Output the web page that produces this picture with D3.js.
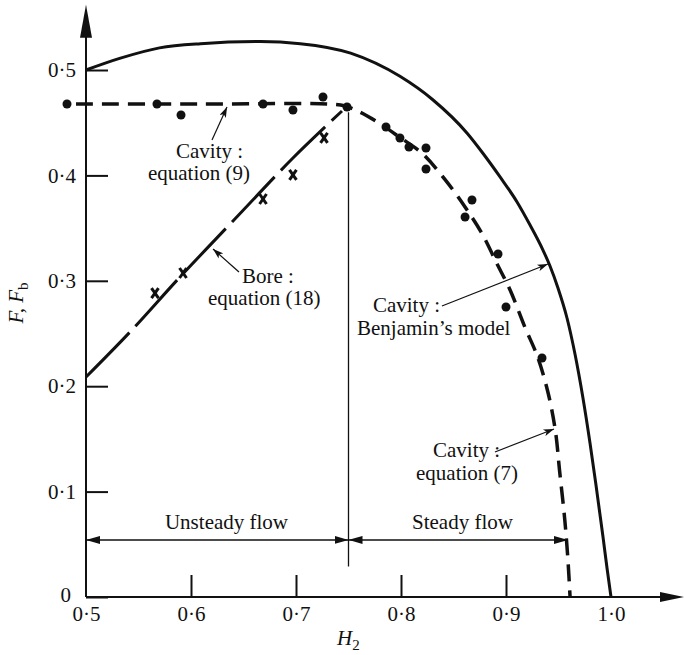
<!DOCTYPE html>
<html>
<head>
<meta charset="utf-8">
<script src="https://cdn.jsdelivr.net/npm/d3@7"></script>
<style>
  html, body { margin: 0; padding: 0; background: #fff; }
  svg { display: block; }
  text { font-family: "Liberation Serif", "Times New Roman", serif; fill: #111; }
</style>
</head>
<body>
<svg id="chart" width="684" height="655"></svg>
<script>
// ---------------- data ----------------
// Cavity: Benjamin's model (solid)
const benjaminH = [0.500, 0.532, 0.570, 0.609, 0.666, 0.704, 0.752, 0.799, 0.830, 0.863, 0.878, 0.894, 0.9105, 0.9229, 0.9352, 0.9419, 0.9495, 0.9581, 0.9657, 0.9733, 0.980, 0.9857, 0.9924, 0.9962, 1.000];
const benjaminF = [0.500, 0.511, 0.521, 0.525, 0.527, 0.525, 0.516, 0.494, 0.472, 0.440, 0.421, 0.399, 0.3748, 0.3529, 0.3292, 0.3140, 0.2932, 0.2647, 0.2305, 0.1888, 0.1461, 0.1063, 0.0569, 0.0275, 0.000];

// Cavity: equation (9) (flat) continuing as equation (7) (dashed)
const cavityH = [0.4905, 0.610, 0.7324, 0.7467, 0.761, 0.780, 0.799, 0.820, 0.842, 0.861, 0.877, 0.891, 0.904, 0.918, 0.930, 0.940, 0.947, 0.951, 0.956, 0.959, 0.961];
const cavityF = [0.4677, 0.4677, 0.4677, 0.4658, 0.460, 0.449, 0.436, 0.421, 0.396, 0.370, 0.345, 0.317, 0.291, 0.256, 0.228, 0.194, 0.158, 0.120, 0.073, 0.035, 0.000];

// Bore: equation (18) (long dashes)
const boreH = [0.500, 0.5419, 0.5895, 0.640, 0.6971, 0.7438];
const boreF = [0.2087, 0.2514, 0.3036, 0.3567, 0.4165, 0.4611];

// Measured cavity points (filled circles)
const dotH = [0.4819, 0.5676, 0.5905, 0.6686, 0.6971, 0.7257, 0.7486, 0.7857, 0.799, 0.8076, 0.8238, 0.8238, 0.861, 0.8676, 0.8924, 0.900, 0.9343];
const dotF = [0.4677, 0.4677, 0.4573, 0.4677, 0.4620, 0.4744, 0.4649, 0.4459, 0.4355, 0.4269, 0.4260, 0.4061, 0.3605, 0.3767, 0.3254, 0.2751, 0.2268];

// Measured bore points (crosses)
const crossH = [0.5657, 0.5924, 0.6686, 0.6971, 0.7267];
const crossF = [0.2884, 0.3074, 0.3776, 0.4004, 0.4355];

// Axes
const xTicks = [0.5, 0.6, 0.7, 0.8, 0.9, 1.0];
const yTicks = [0, 0.1, 0.2, 0.3, 0.4, 0.5];
const xTickLabels = ["0·5", "0·6", "0·7", "0·8", "0·9", "1·0"];
const yTickLabels = ["0", "0·1", "0·2", "0·3", "0·4", "0·5"];

// Regime boundaries
const unsteadyRange = [0.5, 0.75];
const steadyRange = [0.75, 0.959];
const flowArrowF = 0.0541;
const dividerH = 0.75;
const dividerF = [0.46, 0.029];

// ---------------- layout ----------------
const svg = d3.select("#chart");
const x = d3.scaleLinear().domain([0.5, 1.0]).range([86, 611]);
const y = d3.scaleLinear().domain([0, 0.5]).range([597, 70]);
const xAxisEnd = 1.0695, yAxisEnd = 0.562;
const FS = 21;
const FONT = "Liberation Serif, Times New Roman, serif";

const defs = svg.append("defs");
defs.append("marker").attr("id", "thinArrow")
  .attr("viewBox", "0 0 12 8").attr("refX", 12).attr("refY", 4)
  .attr("markerUnits", "userSpaceOnUse").attr("markerWidth", 12).attr("markerHeight", 7)
  .attr("orient", "auto")
  .append("path").attr("d", "M0,0 L12,4 L0,8 L3,4 Z").attr("fill", "#111");
defs.append("marker").attr("id", "flowArrow")
  .attr("viewBox", "0 0 14 8").attr("refX", 14).attr("refY", 4)
  .attr("markerUnits", "userSpaceOnUse").attr("markerWidth", 14).attr("markerHeight", 8)
  .attr("orient", "auto-start-reverse")
  .append("path").attr("d", "M0,0 L14,4 L0,8 Z").attr("fill", "#111");

// ---------- axes ----------
const yAxis = d3.axisLeft(y).tickValues(yTicks).tickSizeInner(-22).tickSizeOuter(0).tickPadding(10)
  .tickFormat((d, i) => yTickLabels[i]);
const gy = svg.append("g").attr("transform", `translate(${x(0.5)},0)`).call(yAxis);
gy.select(".domain").remove();
gy.selectAll(".tick line").attr("stroke", "#111").attr("stroke-width", 2);
gy.selectAll(".tick text").attr("font-family", FONT).attr("font-size", FS).attr("fill", "#111")
  .attr("x", d => d === 0 ? -15 : -10).attr("dy", d => d === 0 ? "0.22em" : "0.32em");

const xAxis = d3.axisBottom(x).tickValues(xTicks).tickSizeInner(-22).tickSizeOuter(0).tickPadding(9)
  .tickFormat((d, i) => xTickLabels[i]);
const gx = svg.append("g").attr("transform", `translate(0,${y(0)})`).call(xAxis);
gx.select(".domain").remove();
gx.selectAll(".tick line").attr("stroke", "#111").attr("stroke-width", 2)
  .attr("display", d => (d === 0.5 || d === 1.0) ? "none" : null);
gx.selectAll(".tick text").attr("font-family", FONT).attr("font-size", FS).attr("fill", "#111");

// axis lines with arrows
svg.append("line").attr("x1", x(0.5)).attr("y1", y(0)).attr("x2", x(xAxisEnd) - 10).attr("y2", y(0))
  .attr("stroke", "#111").attr("stroke-width", 2);
svg.append("line").attr("x1", x(0.5)).attr("y1", y(0)).attr("x2", x(0.5)).attr("y2", y(yAxisEnd) + 10)
  .attr("stroke", "#111").attr("stroke-width", 2);
{
  const tx = x(xAxisEnd), ty = y(0);
  svg.append("path").attr("d", `M${tx},${ty} L${tx - 24},${ty - 5} L${tx - 24},${ty + 5} Z`).attr("fill", "#111");
  const ux = x(0.5), uy = y(yAxisEnd);
  svg.append("path").attr("d", `M${ux},${uy} L${ux - 6},${uy + 33} L${ux + 6},${uy + 33} Z`).attr("fill", "#111");
}

// axis titles
const yl = svg.append("text").attr("transform", `translate(23,303) rotate(-90)`)
  .attr("text-anchor", "middle").attr("font-family", FONT).attr("font-size", FS);
yl.append("tspan").attr("font-style", "italic").text("F, F");
yl.append("tspan").attr("font-size", 15).attr("dy", 5).text("b");

const xl = svg.append("text").attr("x", 337).attr("y", 645).attr("font-family", FONT).attr("font-size", FS);
xl.append("tspan").attr("font-style", "italic").text("H");
xl.append("tspan").attr("font-size", 15).attr("dy", 5).text("2");

// ---------- curves ----------
const lineM = d3.line().x(d => x(d[0])).y(d => y(d[1])).curve(d3.curveMonotoneX);
const lineCR = d3.line().x(d => x(d[0])).y(d => y(d[1])).curve(d3.curveCatmullRom.alpha(0.5));

svg.append("path").datum(benjaminH.map((h, i) => [h, benjaminF[i]]))
  .attr("d", lineM).attr("fill", "none").attr("stroke", "#111").attr("stroke-width", 3);

svg.append("path").datum(cavityH.map((h, i) => [h, cavityF[i]]))
  .attr("d", lineCR).attr("fill", "none").attr("stroke", "#111").attr("stroke-width", 3.5)
  .attr("stroke-dasharray", "17,9");

svg.append("path").datum(boreH.map((h, i) => [h, boreF[i]]))
  .attr("d", lineCR).attr("fill", "none").attr("stroke", "#111").attr("stroke-width", 3)
  .attr("stroke-dasharray", "62,9");

// divider
svg.append("line").attr("x1", x(dividerH)).attr("x2", x(dividerH))
  .attr("y1", y(dividerF[0])).attr("y2", y(dividerF[1]))
  .attr("stroke", "#111").attr("stroke-width", 1.3);

// flow arrows
[unsteadyRange, steadyRange].forEach(r => {
  svg.append("line").attr("x1", x(r[0])).attr("x2", x(r[1]))
    .attr("y1", y(flowArrowF)).attr("y2", y(flowArrowF))
    .attr("stroke", "#111").attr("stroke-width", 1.3)
    .attr("marker-start", "url(#flowArrow)").attr("marker-end", "url(#flowArrow)");
});

// points
svg.append("g").selectAll("circle").data(dotH.map((h, i) => [h, dotF[i]])).join("circle")
  .attr("cx", d => x(d[0])).attr("cy", d => y(d[1])).attr("r", 4.5).attr("fill", "#111");

const cg = svg.append("g").attr("stroke", "#111").attr("stroke-width", 3);
crossH.forEach((h, i) => {
  const cx = x(h), cy = y(crossF[i]);
  cg.append("line").attr("x1", cx - 3.5).attr("y1", cy - 5).attr("x2", cx + 3.5).attr("y2", cy + 5);
  cg.append("line").attr("x1", cx + 3.5).attr("y1", cy - 5).attr("x2", cx - 3.5).attr("y2", cy + 5);
});

// ---------- annotations ----------
const annotations = [
  { lines: [["Cavity :", 0.5857, 0.4165], ["equation (9)", 0.559, 0.3956]], from: [0.620, 0.4336], to: [0.6343, 0.4649] },
  { lines: [["Bore :", 0.6486, 0.2979], ["equation (18)", 0.6162, 0.2770]], from: [0.6457, 0.3083], to: [0.621, 0.3302] },
  { lines: [["Cavity :", 0.7733, 0.2704], ["Benjamin’s model", 0.7581, 0.2486]], from: [0.839, 0.2761], to: [0.940, 0.3159] },
  { lines: [["Cavity :", 0.8305, 0.1328], ["equation (7)", 0.8143, 0.1110]], from: [0.8895, 0.1376], to: [0.9457, 0.1594] },
  { lines: [["Unsteady flow", 0.5752, 0.0645], ["Steady flow", 0.8105, 0.0645]] }
];
annotations.forEach(a => {
  a.lines.forEach(l => {
    svg.append("text").attr("x", x(l[1])).attr("y", y(l[2]))
      .attr("font-family", FONT).attr("font-size", FS).text(l[0]);
  });
  if (a.from) {
    svg.append("line").attr("x1", x(a.from[0])).attr("y1", y(a.from[1]))
      .attr("x2", x(a.to[0])).attr("y2", y(a.to[1]))
      .attr("stroke", "#111").attr("stroke-width", 1.2).attr("marker-end", "url(#thinArrow)");
  }
});
</script>
</body>
</html>
